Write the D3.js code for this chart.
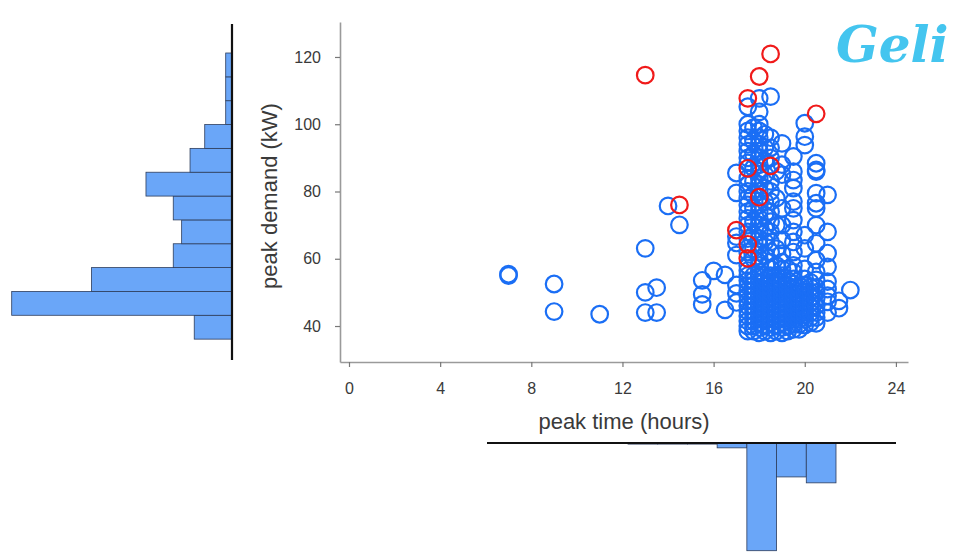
<!DOCTYPE html>
<html>
<head>
<meta charset="utf-8">
<script src="https://cdn.jsdelivr.net/npm/d3@7"></script>
<style>
  html, body { margin: 0; padding: 0; background: #fff; }
  svg { display: block; }
</style>
</head>
<body>
<div id="chart"></div>
<script>
// ---------- DATA ----------
const xTicks = [0, 4, 8, 12, 16, 20, 24];
const yTicks = [40, 60, 80, 100, 120];
const xLabel = "peak time (hours)";
const yLabel = "peak demand (kW)";

// blue points, grouped by peak hour: [hour, [kW values]]
const normalDays = [
  [7.0, [55.0, 55.4]],
  [9.0, [52.5, 44.3]],
  [11.0, [43.5]],
  [13.0, [63.1, 50.0, 44.0]],
  [13.5, [51.4, 44.0]],
  [14.0, [75.7]],
  [14.5, [70.1]],
  [15.5, [53.6, 49.4, 46.4]],
  [16.0, [56.4]],
  [16.5, [55.2, 44.8]],
  [17.0, [85.5, 79.6, 66.6, 64.7, 61.1, 52.2, 49.7, 47.0]],
  [17.5, [38.5, 40, 41.5, 43, 44.5, 46, 47.5, 49, 50.5, 52, 53.5, 55, 56.5, 58, 62, 66, 68, 70, 72, 74, 76, 78, 80, 82, 84, 88.5, 90, 92, 94, 96, 98, 100, 105.2]],
  [17.75, [38.5, 40, 41.5, 43, 44.5, 46, 47.5, 49, 50.5, 52, 53.5, 55, 60, 63, 67, 71, 75, 79, 83, 87, 91, 95, 99]],
  [18.0, [38, 39.5, 41, 42.5, 44, 45.5, 47, 48.5, 50, 51.5, 53, 54.5, 56, 58, 60, 62, 64, 66, 68, 70, 72, 74, 76, 80, 82, 84, 86, 88, 90, 92, 94, 96, 98, 100, 103.7, 107.7]],
  [18.25, [38.5, 40, 41.5, 43, 44.5, 46, 47.5, 49, 50.5, 52, 53.5, 55, 61, 65, 69, 73, 77, 81, 85, 89, 93, 97]],
  [18.5, [38, 39.5, 41, 42.5, 44, 45.5, 47, 48.5, 50, 51.5, 53, 55, 57, 59, 62, 65, 68, 71, 74, 77, 80, 83, 90, 93, 96, 108.2]],
  [18.75, [38.5, 40, 41.5, 43, 44.5, 46, 47.5, 49, 50.5, 52, 53.5, 55, 58, 63, 70, 78, 86]],
  [19.0, [38, 39.5, 41, 42.5, 44, 45.5, 47, 48.5, 50, 51.5, 53, 55, 57, 59, 61.5, 65.6, 70, 75, 85, 88, 94.3]],
  [19.25, [38.5, 40, 41.5, 43, 44.5, 46, 47.5, 49, 50.5, 52, 53.5, 57]],
  [19.5, [39, 40.5, 42, 43.5, 45, 46.5, 48, 49.5, 51, 52.5, 54, 56, 58, 62, 65, 68, 71.5, 75, 77, 81, 83.4, 85.9, 90.4]],
  [19.75, [39, 40.5, 42, 43.5, 45, 46.5, 48, 49.5, 51, 52]],
  [20.0, [40.3, 42, 43.5, 45, 47.2, 48.5, 50, 52, 54, 57, 63.1, 67, 93.8, 96.3, 100.3]],
  [20.25, [41, 42.5, 44, 45.5, 47, 48.5, 50, 51.5, 53]],
  [20.5, [40.8, 42.5, 44, 46, 48.2, 50, 51.5, 53.7, 56.1, 59.6, 64.6, 70.0, 75.0, 76.5, 79.5, 85.9, 86.4, 88.4]],
  [21.0, [44, 47.2, 49, 51, 53.2, 57.6, 61.7, 68.0, 79.0]],
  [21.5, [45.3, 47.5]],
  [22.0, [50.7]]
];

// red points (outliers): hours and kW
const outlierHours = [13.0, 18.5, 18.0, 17.5, 20.5, 14.5, 17.5, 18.5, 18.0, 17.0, 17.5, 17.5];
const outlierKW    = [114.6, 120.9, 114.2, 107.7, 103.1, 76.0, 86.9, 87.6, 78.3, 68.5, 64.3, 60.1];

// marginal histogram of peak demand (bins from bottom to top)
const demandBinStart = 36.1;
const demandBinWidth = 7.09;
const demandCounts = [18, 105, 67, 28, 24, 28, 41, 20, 13, 3, 3, 3];

// marginal histogram of peak time (bins left to right)
const timeCounts = [2, 2, 2, 9, 200, 63, 74];

// ---------- DRAW ----------
const W = 953, H = 554;
const svg = d3.select("#chart").append("svg").attr("width", W).attr("height", H);

const x = d3.scaleLinear().domain([-0.395, 24.53]).range([340, 908]);
const y = d3.scaleLinear().domain([29.3, 130.4]).range([362, 22]);

const axisColor = "#9a9a9a";
const textColor = "#3a3a3a";
const font = "'Liberation Sans', Arial, sans-serif";

// Y axis
const gy = svg.append("g").attr("transform", "translate(340,0)")
  .call(d3.axisLeft(y).tickValues(yTicks).tickSize(5).tickSizeOuter(0).tickPadding(14));
// X axis
const gx = svg.append("g").attr("transform", "translate(0,362)")
  .call(d3.axisBottom(x).tickValues(xTicks).tickSize(5).tickSizeOuter(0).tickPadding(16));
[gx, gy].forEach(g => {
  g.select(".domain").attr("stroke", axisColor).attr("stroke-width", 1.6);
  g.selectAll(".tick line").attr("stroke", "#777").attr("stroke-width", 1.2);
  g.selectAll(".tick text").attr("fill", textColor).style("font-family", font).style("font-size", "16px");
});

svg.append("text")
  .attr("x", 624).attr("y", 429)
  .attr("text-anchor", "middle")
  .style("font-family", font).style("font-size", "22px").attr("fill", textColor)
  .text(xLabel);
svg.append("text")
  .attr("transform", `translate(277,196) rotate(-90)`)
  .attr("text-anchor", "middle")
  .style("font-family", font).style("font-size", "22px").attr("fill", textColor)
  .text(yLabel);

// Scatter
const bluePts = normalDays.flatMap(([h, vals]) => vals.map(v => ({h, v})));
const redPts = outlierHours.map((h, i) => ({h, v: outlierKW[i]}));
const R = 8.3;
svg.append("g").selectAll("circle").data(bluePts).join("circle")
  .attr("cx", d => x(d.h)).attr("cy", d => y(d.v)).attr("r", R)
  .attr("fill", "none").attr("stroke", "#1a6ef5").attr("stroke-width", 2.2);
svg.append("g").selectAll("circle").data(redPts).join("circle")
  .attr("cx", d => x(d.h)).attr("cy", d => y(d.v)).attr("r", R)
  .attr("fill", "none").attr("stroke", "#f01a1a").attr("stroke-width", 2.2);

// Left marginal histogram (peak demand)
const barFill = "#6aa6f8";
const barStroke = "#2d3d5c";
const hxLen = d3.scaleLinear().domain([0, 105]).range([0, 220.3]);
const histBaseX = 232;
const demandBins = demandCounts.map((c, i) => ({
  c, lo: demandBinStart + i * demandBinWidth, hi: demandBinStart + (i + 1) * demandBinWidth
}));
svg.append("g").selectAll("rect").data(demandBins).join("rect")
  .attr("x", d => histBaseX - hxLen(d.c))
  .attr("y", d => y(d.hi))
  .attr("width", d => hxLen(d.c))
  .attr("height", d => y(d.lo) - y(d.hi))
  .attr("fill", barFill).attr("stroke", barStroke).attr("stroke-width", 0.8);
svg.append("line")
  .attr("x1", histBaseX).attr("x2", histBaseX).attr("y1", 24).attr("y2", 360)
  .attr("stroke", "#111").attr("stroke-width", 2.2);

// Bottom marginal histogram (peak time)
const histBaseY = 443;
const tb = d3.scaleBand().domain(d3.range(timeCounts.length)).range([628, 836]).padding(0);
const hyLen = d3.scaleLinear().domain([0, 200]).range([0, 107.7]);
svg.append("g").selectAll("rect").data(timeCounts).join("rect")
  .attr("x", (d, i) => tb(i))
  .attr("y", histBaseY)
  .attr("width", tb.bandwidth())
  .attr("height", d => Math.max(hyLen(d), 1))
  .attr("fill", d => hyLen(d) < 2 ? "#1a2a55" : barFill)
  .attr("stroke", barStroke).attr("stroke-width", 0.8);
svg.append("line")
  .attr("x1", 487).attr("x2", 896).attr("y1", histBaseY).attr("y2", histBaseY)
  .attr("stroke", "#111").attr("stroke-width", 2.2);

// Logo
svg.append("text")
  .attr("x", 836).attr("y", 62)
  .style("font-family", "'DejaVu Serif', serif")
  .style("font-style", "italic").style("font-weight", "bold")
  .style("font-size", "50px")
  .attr("fill", "#44c5ef")
  .text("Geli");
</script>
</body>
</html>
